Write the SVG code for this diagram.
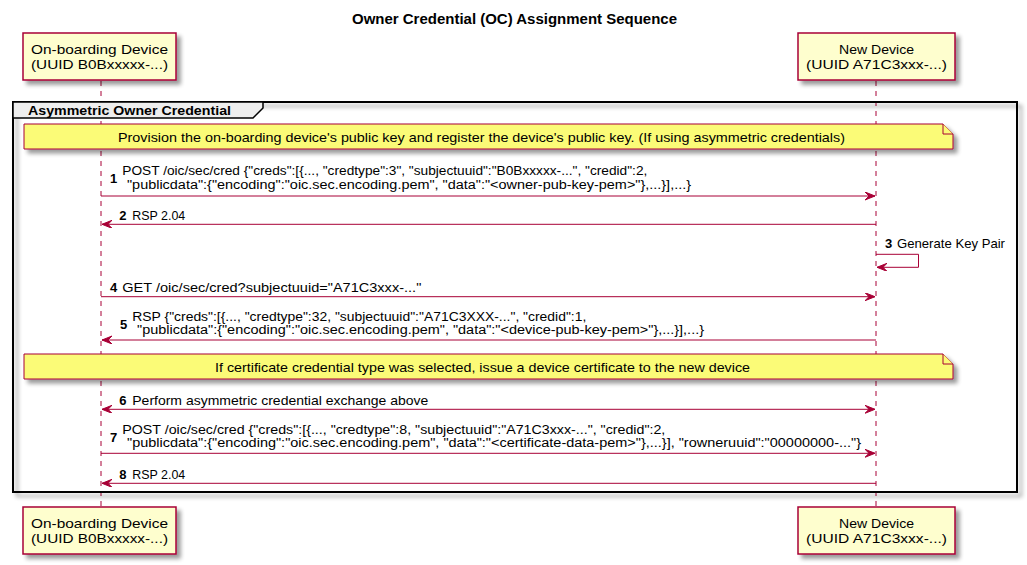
<svg xmlns="http://www.w3.org/2000/svg" width="1027" height="565" viewBox="0 0 1027 565">
<style>
.part{fill:#FEFECE;stroke:#A80036;stroke-width:1.5}
.note{fill:#FBFB77;stroke:#A80036;stroke-width:1}
.life{stroke:#A80036;stroke-width:1;stroke-dasharray:5,5;fill:none}
.msg{stroke:#A80036;stroke-width:1;fill:none}
.t{font-family:"Liberation Sans",Arial,sans-serif;fill:#000}
.p{font-size:13px}
.m{font-size:13px}
.m2{font-size:12px}
.n{font-size:13px;font-weight:bold}
.ttl{font-size:14px;font-weight:bold}
</style>
<defs>
<filter id="sh" x="-5%" y="-20%" width="115%" height="160%">
<feGaussianBlur in="SourceAlpha" stdDeviation="2"/>
<feOffset dx="4" dy="4" result="o"/>
<feComponentTransfer><feFuncA type="linear" slope="0.4"/></feComponentTransfer>
<feMerge><feMergeNode/><feMergeNode in="SourceGraphic"/></feMerge>
</filter>
<marker id="ah" markerUnits="userSpaceOnUse" markerWidth="12" markerHeight="10" refX="10" refY="4" orient="auto-start-reverse">
<path d="M0,0 L10,4 L0,8 L4,4 Z" fill="#A80036" stroke="#A80036" stroke-width="1"/>
</marker>
</defs>

<text class="t ttl" x="514.5" y="23.5" text-anchor="middle" textLength="325" lengthAdjust="spacingAndGlyphs">Owner Credential (OC) Assignment Sequence</text>

<g id="lifelines">
<line class="life" x1="101" y1="81" x2="101" y2="507"/>
<line class="life" x1="876" y1="81" x2="876" y2="507"/>
</g>

<g id="frame">
<rect x="13" y="102" width="1004" height="390" fill="none" stroke="#000" stroke-width="2" filter="url(#sh)"/>
<path d="M13,102 H263 V108 L253,118 H13 Z" fill="#EEEEEE" stroke="#000" stroke-width="1.5"/>
<text class="t n" x="28" y="115" textLength="203" lengthAdjust="spacingAndGlyphs">Asymmetric Owner Credential</text>
</g>

<g id="onboarding-top">
<rect class="part" x="23" y="33" width="153" height="47" filter="url(#sh)"/>
<text class="t p" text-anchor="middle"><tspan x="99.5" y="54" textLength="137" lengthAdjust="spacingAndGlyphs">On-boarding Device</tspan><tspan x="99.5" y="68.5" textLength="137" lengthAdjust="spacingAndGlyphs">(UUID B0Bxxxxx-...)</tspan></text>
</g>
<g id="newdevice-top">
<rect class="part" x="798" y="33" width="157" height="47" filter="url(#sh)"/>
<text class="t p" text-anchor="middle"><tspan x="876.5" y="54" textLength="75" lengthAdjust="spacingAndGlyphs">New Device</tspan><tspan x="876.5" y="68.5" textLength="141" lengthAdjust="spacingAndGlyphs">(UUID A71C3xxx-...)</tspan></text>
</g>
<g id="onboarding-bottom">
<rect class="part" x="23" y="507" width="153" height="47" filter="url(#sh)"/>
<text class="t p" text-anchor="middle"><tspan x="99.5" y="528" textLength="137" lengthAdjust="spacingAndGlyphs">On-boarding Device</tspan><tspan x="99.5" y="542.5" textLength="137" lengthAdjust="spacingAndGlyphs">(UUID B0Bxxxxx-...)</tspan></text>
</g>
<g id="newdevice-bottom">
<rect class="part" x="798" y="507" width="157" height="47" filter="url(#sh)"/>
<text class="t p" text-anchor="middle"><tspan x="876.5" y="528" textLength="75" lengthAdjust="spacingAndGlyphs">New Device</tspan><tspan x="876.5" y="542.5" textLength="141" lengthAdjust="spacingAndGlyphs">(UUID A71C3xxx-...)</tspan></text>
</g>

<g id="note1">
<path class="note" d="M24,124 H943 L953,134 V149 H24 Z" filter="url(#sh)"/>
<path class="note" d="M943,124 V134 H953"/>
<text class="t m" x="118" y="141.5" textLength="727" lengthAdjust="spacingAndGlyphs">Provision the on-boarding device's public key and register the device's public key. (If using asymmetric credentials)</text>
</g>
<g id="note2">
<path class="note" d="M24,354 H943 L953,364 V379 H24 Z" filter="url(#sh)"/>
<path class="note" d="M943,354 V364 H953"/>
<text class="t m" x="215" y="371.5" textLength="535" lengthAdjust="spacingAndGlyphs">If certificate credential type was selected, issue a device certificate to the new device</text>
</g>

<g id="connectors">
<line class="msg" x1="101" y1="196" x2="875" y2="196" marker-end="url(#ah)"/>
<text class="t n" x="110" y="183">1</text>
<text class="t m2"><tspan x="122.3" y="175" textLength="525" lengthAdjust="spacingAndGlyphs">POST /oic/sec/cred {"creds":[{..., "credtype":3", "subjectuuid":"B0Bxxxxx-...", "credid":2,</tspan><tspan x="127" y="188.5" textLength="564" lengthAdjust="spacingAndGlyphs">"publicdata":{"encoding":"oic.sec.encoding.pem", "data":"&lt;owner-pub-key-pem&gt;"},...}],...}</tspan></text>

<line class="msg" x1="876" y1="224.3" x2="102" y2="224.3" marker-end="url(#ah)"/>
<text class="t n" x="119.3" y="220">2</text>
<text class="t m" x="132.3" y="220" textLength="53" lengthAdjust="spacingAndGlyphs">RSP 2.04</text>

<path class="msg" d="M876,254.3 H918.5 V267.3 H877" marker-end="url(#ah)"/>
<text class="t n" x="885" y="248">3</text>
<text class="t m" x="897" y="248" textLength="108" lengthAdjust="spacingAndGlyphs">Generate Key Pair</text>

<line class="msg" x1="101" y1="296.7" x2="875" y2="296.7" marker-end="url(#ah)"/>
<text class="t n" x="110" y="292">4</text>
<text class="t m" x="122.3" y="292" textLength="299" lengthAdjust="spacingAndGlyphs">GET /oic/sec/cred?subjectuuid="A71C3xxx-..."</text>

<line class="msg" x1="876" y1="340" x2="102" y2="340" marker-end="url(#ah)"/>
<text class="t n" x="120" y="329">5</text>
<text class="t m2"><tspan x="132.3" y="320.5" textLength="454" lengthAdjust="spacingAndGlyphs">RSP {"creds":[{..., "credtype":32, "subjectuuid":"A71C3XXX-...", "credid":1,</tspan><tspan x="137" y="334" textLength="567" lengthAdjust="spacingAndGlyphs">"publicdata":{"encoding":"oic.sec.encoding.pem", "data":"&lt;device-pub-key-pem&gt;"},...}],...}</tspan></text>

<line class="msg" x1="102" y1="409.3" x2="875" y2="409.3" marker-start="url(#ah)" marker-end="url(#ah)"/>
<text class="t n" x="119.3" y="405">6</text>
<text class="t m" x="132.3" y="405" textLength="296" lengthAdjust="spacingAndGlyphs">Perform asymmetric credential exchange above</text>

<line class="msg" x1="101" y1="453.3" x2="875" y2="453.3" marker-end="url(#ah)"/>
<text class="t n" x="110" y="442">7</text>
<text class="t m2"><tspan x="122.3" y="433.5" textLength="543" lengthAdjust="spacingAndGlyphs">POST /oic/sec/cred {"creds":[{..., "credtype":8, "subjectuuid":"A71C3xxx-...", "credid":2,</tspan><tspan x="127" y="447" textLength="734" lengthAdjust="spacingAndGlyphs">"publicdata":{"encoding":"oic.sec.encoding.pem", "data":"&lt;certificate-data-pem&gt;"},...}], "rowneruuid":"00000000-..."}</tspan></text>

<line class="msg" x1="876" y1="483.3" x2="102" y2="483.3" marker-end="url(#ah)"/>
<text class="t n" x="119.3" y="479">8</text>
<text class="t m" x="132.3" y="479" textLength="53" lengthAdjust="spacingAndGlyphs">RSP 2.04</text>
</g>
</svg>
